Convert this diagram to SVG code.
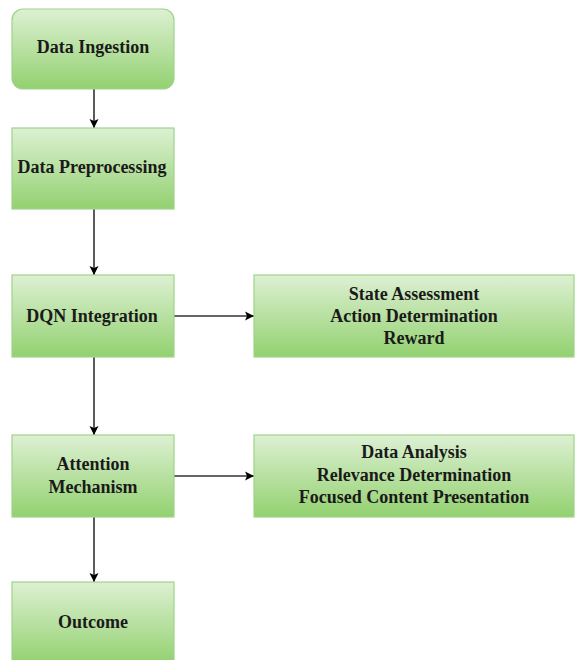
<svg xmlns="http://www.w3.org/2000/svg" width="577" height="660" viewBox="0 0 577 660">
<defs>
<linearGradient id="g" x1="0" y1="0" x2="0" y2="1">
<stop offset="0" stop-color="#ddf0d3"/>
<stop offset="1" stop-color="#93d170"/>
</linearGradient>
<marker id="ah" markerWidth="10" markerHeight="10" refX="9" refY="5" orient="auto" markerUnits="userSpaceOnUse">
<path d="M0,0.5 L9,5 L0,9.5 L2,5 Z" fill="#000"/>
</marker>
<style>
.box{fill:url(#g);stroke:#9fd28a;stroke-width:1.2}
.t{font-family:"Liberation Serif","Times New Roman",serif;font-weight:bold;font-size:18px;fill:#1a1a1a;text-anchor:middle}
.c{stroke:#333;stroke-width:1.6;fill:none;marker-end:url(#ah)}
</style>
</defs>
<rect width="577" height="660" fill="#fff"/>
<g id="connectors">
<line class="c" x1="94" y1="89" x2="94" y2="128"/>
<line class="c" x1="94" y1="209" x2="94" y2="275"/>
<line class="c" x1="94" y1="357" x2="94" y2="435"/>
<line class="c" x1="94" y1="517" x2="94" y2="582"/>
<line class="c" x1="174" y1="316" x2="254" y2="316"/>
<line class="c" x1="174" y1="476" x2="254" y2="476"/>
</g>
<g id="data-ingestion">
<rect class="box" x="12" y="9" width="162" height="80" rx="11"/>
<text class="t" x="93" y="53">Data Ingestion</text>
</g>
<g id="data-preprocessing">
<rect class="box" x="12" y="128" width="162" height="81"/>
<text class="t" x="92" y="173">Data Preprocessing</text>
</g>
<g id="dqn-integration">
<rect class="box" x="12" y="275" width="162" height="82"/>
<text class="t" x="92" y="322">DQN Integration</text>
</g>
<g id="dqn-details">
<rect class="box" x="254" y="275" width="320" height="82"/>
<text class="t" x="414" y="300">State Assessment</text>
<text class="t" x="414" y="322">Action Determination</text>
<text class="t" x="414" y="344">Reward</text>
</g>
<g id="attention-mechanism">
<rect class="box" x="12" y="435" width="162" height="82"/>
<text class="t" x="93" y="470">Attention</text>
<text class="t" x="93" y="493">Mechanism</text>
</g>
<g id="attention-details">
<rect class="box" x="254" y="435" width="320" height="82"/>
<text class="t" x="414" y="458">Data Analysis</text>
<text class="t" x="414" y="481">Relevance Determination</text>
<text class="t" x="414" y="503">Focused Content Presentation</text>
</g>
<g id="outcome">
<rect class="box" x="12" y="582" width="162" height="82"/>
<text class="t" x="93" y="628">Outcome</text>
</g>
</svg>
